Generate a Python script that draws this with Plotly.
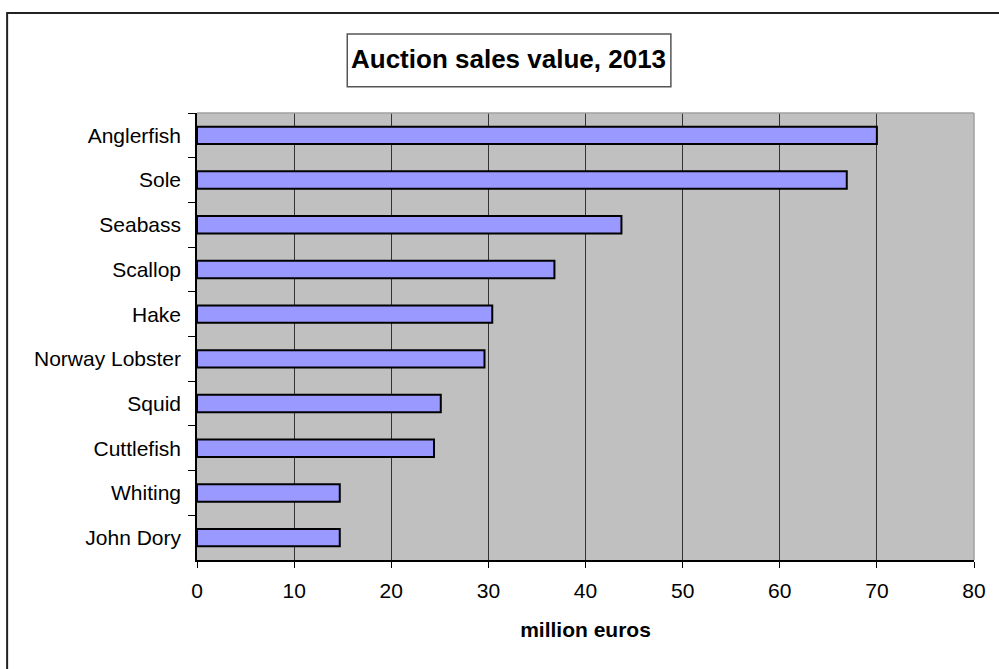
import plotly.graph_objects as go

categories = ["Anglerfish", "Sole", "Seabass", "Scallop", "Hake",
              "Norway Lobster", "Squid", "Cuttlefish", "Whiting", "John Dory"]
values = [70.0, 66.9, 43.7, 36.8, 30.4, 29.6, 25.1, 24.4, 14.7, 14.7]
x_ticks = [0, 10, 20, 30, 40, 50, 60, 70, 80]
title_text = "Auction sales value, 2013"
x_title = "million euros"

W, H = 999, 669
L, R, T, B = 197.3, 974.0, 112.7, 560.3
PW, PH = R - L, B - T


def px(x):
    return (x - L) / PW


def py(y):
    return (B - y) / PH


FONT = "Arial, Liberation Sans, sans-serif"

fig = go.Figure()
fig.add_trace(go.Bar(
    x=values, y=categories, orientation="h",
    marker=dict(color="#9999FF", line=dict(color="#000000", width=2)),
    hoverinfo="x+y",
))

fig.update_layout(
    width=W, height=H,
    margin=dict(l=L, r=W - R, t=T, b=H - B, pad=0),
    paper_bgcolor="white",
    plot_bgcolor="#C0C0C0",
    showlegend=False,
    bargap=0.61,
    xaxis=dict(
        range=[0, 80], tickvals=x_ticks, ticktext=[str(v) for v in x_ticks],
        showgrid=True, gridcolor="#333333", gridwidth=1,
        zeroline=False,
        showline=True, linecolor="#000000", linewidth=1.5,
        ticks="outside", ticklen=6, tickcolor="#000000", tickwidth=1,
        ticklabelstandoff=5,
        tickfont=dict(family=FONT, size=21, color="#000000"),
        title=dict(text="<b>" + x_title + "</b>",
                   font=dict(family=FONT, size=21, color="#000000"),
                   standoff=21),
        fixedrange=True,
    ),
    yaxis=dict(
        autorange="reversed",
        showgrid=False, zeroline=False,
        showline=True, linecolor="#000000", linewidth=1.5,
        ticks="outside", ticklen=7, tickcolor="#000000", tickwidth=1,
        tickson="boundaries",
        ticklabelstandoff=10,
        tickfont=dict(family=FONT, size=21, color="#000000"),
        fixedrange=True,
    ),
    shapes=[
        # plot area top and right border (gray)
        dict(type="line", xref="paper", yref="paper", x0=0, x1=1, y0=1, y1=1,
             line=dict(color="#A0A0A0", width=1.5), layer="above"),
        dict(type="line", xref="paper", yref="paper", x0=1, x1=1, y0=0, y1=1,
             line=dict(color="#A0A0A0", width=1.5), layer="above"),
        # title box
        dict(type="rect", xref="paper", yref="paper",
             x0=px(347.5), x1=px(671), y0=py(86.5), y1=py(33.5),
             line=dict(color="#555555", width=1.5), fillcolor="white", layer="above"),
        # outer chart border (left and top visible)
        dict(type="rect", xref="paper", yref="paper",
             x0=px(7.5), x1=px(1010), y0=py(690), y1=py(12.5),
             line=dict(color="#222222", width=2), fillcolor="rgba(0,0,0,0)", layer="above"),
    ],
    annotations=[
        dict(text="<b>" + title_text + "</b>", xref="paper", yref="paper",
             x=px(508.4), y=py(59.0), xanchor="center", yanchor="middle",
             showarrow=False, font=dict(family=FONT, size=26, color="#000000")),
    ],
)

fig.write_html(
    "out.html",
    config={"displayModeBar": False},
    post_script="document.body.style.margin='0';document.body.style.overflow='hidden';",
)
